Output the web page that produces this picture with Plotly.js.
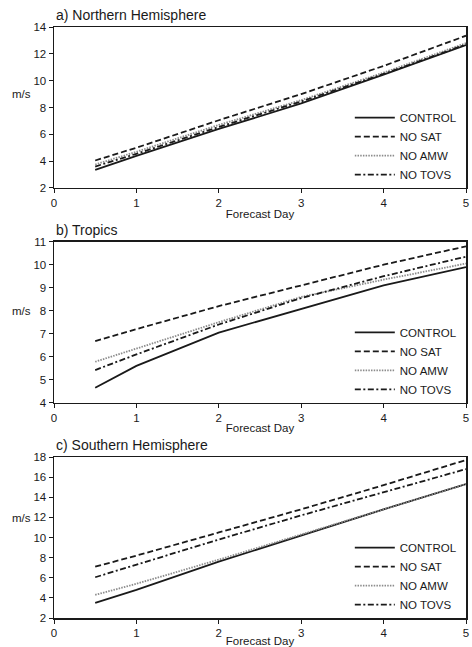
<!DOCTYPE html>
<html>
<head>
<meta charset="utf-8">
<script src="https://cdn.plot.ly/plotly-3.0.1.min.js"></script>
<style>html,body{margin:0;padding:0;background:#fff;}#chart{width:472px;height:647px;}</style>
</head>
<body>
<div id="chart"></div>
<script>
// Forecast days
const days = [0.5, 1, 2, 3, 4, 5];
const seriesNames = ["CONTROL", "NO SAT", "NO AMW", "NO TOVS"];

// a) Northern Hemisphere (m/s)
const nhControl = [3.35, 4.4, 6.4, 8.3, 10.45, 12.65];
const nhNoSat   = [4.05, 5.0, 7.05, 9.0, 11.1, 13.35];
const nhNoAmw   = [3.75, 4.7, 6.7, 8.55, 10.6, 12.8];
const nhNoTovs  = [3.6, 4.55, 6.55, 8.45, 10.5, 12.7];

// b) Tropics (m/s)
const trControl = [4.65, 5.6, 7.05, 8.07, 9.1, 9.9];
const trNoSat   = [6.68, 7.2, 8.2, 9.1, 10.0, 10.8];
const trNoAmw   = [5.78, 6.35, 7.5, 8.6, 9.35, 10.05];
const trNoTovs  = [5.42, 6.1, 7.4, 8.55, 9.5, 10.35];

// c) Southern Hemisphere (m/s)
const shControl = [3.5, 4.8, 7.6, 10.2, 12.8, 15.3];
const shNoSat   = [7.1, 8.2, 10.5, 12.8, 15.2, 17.7];
const shNoAmw   = [4.3, 5.4, 7.8, 10.3, 12.8, 15.3];
const shNoTovs  = [6.05, 7.3, 9.8, 12.2, 14.5, 16.8];

const panelTitles = ["a) Northern Hemisphere", "b) Tropics", "c) Southern Hemisphere"];
const xTicks = [0, 1, 2, 3, 4, 5];
const yTicksA = [2, 4, 6, 8, 10, 12, 14];
const yTicksB = [4, 5, 6, 7, 8, 9, 10, 11];
const yTicksC = [2, 4, 6, 8, 10, 12, 14, 16, 18];

const FONT = "Liberation Sans, Arial, Helvetica, sans-serif";
const INK = "#1a1a1a";

const styles = [
  {color: INK, width: 1.8, dash: "solid"},
  {color: INK, width: 1.8, dash: "6px,3px"},
  {color: "#8c8c8c", width: 1.8, dash: "1.5px,1.2px"},
  {color: INK, width: 1.8, dash: "6px,2.5px,2px,2.5px"}
];

const panels = [
  {vals: [nhControl, nhNoSat, nhNoAmw, nhNoTovs], xa: "x", ya: "y", lg: "legend"},
  {vals: [trControl, trNoSat, trNoAmw, trNoTovs], xa: "x2", ya: "y2", lg: "legend2"},
  {vals: [shControl, shNoSat, shNoAmw, shNoTovs], xa: "x3", ya: "y3", lg: "legend3"}
];

const traces = [];
panels.forEach(p => {
  p.vals.forEach((v, i) => {
    traces.push({
      x: days, y: v, type: "scatter", mode: "lines",
      name: seriesNames[i], xaxis: p.xa, yaxis: p.ya, legend: p.lg,
      line: styles[i], hoverinfo: "skip"
    });
  });
});

function xAxis(anchor) {
  return {
    anchor: anchor, domain: [0, 1], range: [0, 5], tickvals: xTicks,
    showline: true, mirror: true, linecolor: INK, linewidth: 1.5,
    ticks: "outside", ticklen: 4, tickcolor: INK, tickwidth: 1,
    showgrid: false, zeroline: false,
    tickfont: {family: FONT, size: 11.5, color: INK},
    title: {text: "Forecast Day", standoff: 1, font: {family: FONT, size: 11.5, color: INK}}
  };
}
function yAxis(anchor, dom, range, tv) {
  return {
    anchor: anchor, domain: dom, range: range, tickvals: tv,
    showline: true, mirror: true, linecolor: INK, linewidth: 1.5,
    ticks: "outside", ticklen: 4, tickcolor: INK, tickwidth: 1,
    showgrid: false, zeroline: false,
    tickfont: {family: FONT, size: 11.5, color: INK}
  };
}
function legendAt(y) {
  return {
    x: 0.718, xanchor: "left", y: y, yanchor: "middle",
    bgcolor: "rgba(0,0,0,0)", borderwidth: 0,
    font: {family: FONT, size: 11.5, color: INK},
    itemwidth: 40
  };
}

const layout = {
  width: 472, height: 647,
  margin: {l: 54, r: 6, t: 27, b: 29},
  paper_bgcolor: "#fff", plot_bgcolor: "#fff",
  showlegend: true,
  xaxis: xAxis("y"),
  yaxis: yAxis("x", [0.7276, 1.0], [2, 14], yTicksA),
  xaxis2: xAxis("y2"),
  yaxis2: yAxis("x2", [0.3643, 0.6367], [4, 11], yTicksB),
  xaxis3: xAxis("y3"),
  yaxis3: yAxis("x3", [0, 0.2724], [2, 18], yTicksC),
  legend: legendAt(0.7276 + 0.2724 * 0.26),
  legend2: legendAt(0.3643 + 0.2724 * 0.26),
  legend3: legendAt(0.2724 * 0.26),
  annotations: [
    {text: panelTitles[0], xref: "paper", yref: "paper", x: 0, y: 1.0, xanchor: "left", yanchor: "bottom", yshift: 2, showarrow: false, font: {family: FONT, size: 14, color: INK}},
    {text: panelTitles[1], xref: "paper", yref: "paper", x: 0, y: 0.6367, xanchor: "left", yanchor: "bottom", yshift: 2, showarrow: false, font: {family: FONT, size: 14, color: INK}},
    {text: panelTitles[2], xref: "paper", yref: "paper", x: 0, y: 0.2724, xanchor: "left", yanchor: "bottom", yshift: 2, showarrow: false, font: {family: FONT, size: 14, color: INK}},
    {text: "m/s", xref: "paper", yref: "y", x: -0.08, y: 9, xanchor: "center", yanchor: "middle", showarrow: false, font: {family: FONT, size: 11.5, color: INK}},
    {text: "m/s", xref: "paper", yref: "y2", x: -0.08, y: 8, xanchor: "center", yanchor: "middle", showarrow: false, font: {family: FONT, size: 11.5, color: INK}},
    {text: "m/s", xref: "paper", yref: "y3", x: -0.08, y: 11.9, xanchor: "center", yanchor: "middle", showarrow: false, font: {family: FONT, size: 11.5, color: INK}}
  ]
};

Plotly.newPlot("chart", traces, layout, {displayModeBar: false, staticPlot: true});
</script>
</body>
</html>
